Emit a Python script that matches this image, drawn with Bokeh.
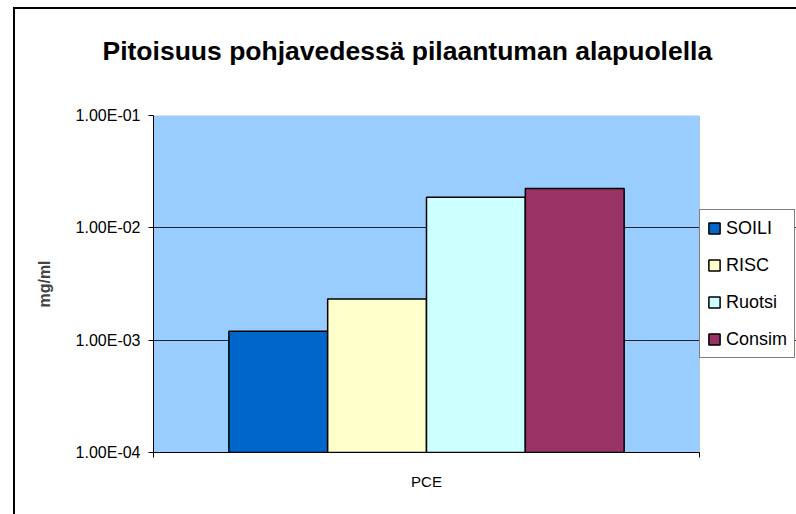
from bokeh.plotting import figure
from bokeh.models import (Range1d, FixedTicker, CustomJSTickFormatter, LinearAxis,
                          Legend, LegendItem, BoxAnnotation, InlineStyleSheet)
from bokeh.transform import dodge
from bokeh.embed import file_html
from bokeh.resources import INLINE

# ---- data ----
categories = ["PCE"]
series_names = ["SOILI", "RISC", "Ruotsi", "Consim"]
soili = [1.2e-3]
risc = [2.33e-3]
ruotsi = [1.87e-2]
consim = [2.24e-2]
y_ticks = [1e-4, 1e-3, 1e-2, 1e-1]
title_text = "Pitoisuus pohjavedessä pilaantuman alapuolella"
y_label = "mg/ml"

colors = ["#0066CC", "#FFFFCC", "#CCFFFF", "#993366"]
values = [soili, risc, ruotsi, consim]
FONT = "Liberation Sans"

n_cat = len(categories)
cat_pos = [i + 0.5 for i in range(n_cat)]
# the frame also spans the legend column to the right of the plot area
x_end = n_cat * 643 / 546

W, H = 796, 514
p = figure(width=W, height=H, output_backend="svg", toolbar_location=None,
           x_range=Range1d(0, x_end), y_axis_type="log",
           y_range=Range1d(y_ticks[0], y_ticks[-1]),
           min_border_left=153, min_border_right=0, min_border_top=115, min_border_bottom=62)

p.background_fill_color = "white"
p.border_fill_color = "white"
p.outline_line_color = None

# plot area (blue, grey border)
plot_area = BoxAnnotation(left=0, right=n_cat, fill_color="#99CCFF", fill_alpha=1,
                          line_color="#808080", line_width=1, level="image")
p.add_layout(plot_area)

bar_w = 0.181
offsets = [-1.5 * bar_w, -0.5 * bar_w, 0.5 * bar_w, 1.5 * bar_w]
renderers = []
for name, vals, col, off in zip(series_names, values, colors, offsets):
    r = p.vbar(x=dodge("x", off), top="top", bottom=y_ticks[0], width=bar_w,
               source=dict(x=cat_pos, top=vals), fill_color=col,
               line_color="black", line_width=1.5)
    renderers.append((name, r))

# title
p.title.text = title_text
p.title.text_font = FONT
p.title.text_font_style = "bold"
p.title.text_font_size = "26.5px"
p.title.text_color = "black"
p.title.align = "left"
p.title.offset = -51

# y axis
p.yaxis.ticker = FixedTicker(ticks=y_ticks, minor_ticks=[])
p.yaxis.formatter = CustomJSTickFormatter(code="""
const e = Math.round(Math.log10(tick));
const m = tick / Math.pow(10, e);
const a = Math.abs(e);
return m.toFixed(2) + "E" + (e < 0 ? "-" : "+") + (a < 10 ? "0" : "") + a;
""")
p.yaxis.major_label_text_font = FONT
p.yaxis.major_label_text_font_size = "16px"
p.yaxis.major_label_text_color = "black"
p.yaxis.major_tick_out = 5
p.yaxis.major_tick_in = 0
p.yaxis.minor_tick_out = 0
p.yaxis.minor_tick_in = 0
p.yaxis.major_label_standoff = 8
p.yaxis.axis_line_color = "black"
p.yaxis.major_tick_line_color = "black"
p.yaxis.axis_label = y_label
p.yaxis.axis_label_text_font = FONT
p.yaxis.axis_label_text_font_style = "bold"
p.yaxis.axis_label_text_font_size = "16px"
p.yaxis.axis_label_standoff = 20

# x axis (category axis below)
xax = p.below[0]
xax.ticker = FixedTicker(ticks=cat_pos, minor_ticks=[0, n_cat])
xax.major_label_overrides = {pos: name for pos, name in zip(cat_pos, categories)}
xax.bounds = (0, n_cat)
xax.major_label_text_font = FONT
xax.major_label_text_font_size = "15px"
xax.major_label_text_color = "black"
xax.major_tick_line_color = None
xax.minor_tick_line_color = "black"
xax.minor_tick_out = 5
xax.minor_tick_in = 0
xax.major_label_standoff = 14
xax.axis_line_color = "black"

p.xgrid.grid_line_color = None
p.ygrid.ticker = FixedTicker(ticks=y_ticks[1:-1])
p.ygrid.grid_line_color = "#222222"
p.ygrid.grid_line_width = 1

# invisible spacer between the frame and the title (lifts the title up)
spacer = LinearAxis(ticker=FixedTicker(ticks=cat_pos, minor_ticks=[]),
                    major_label_overrides={pos: "" for pos in cat_pos},
                    major_label_text_font_size="1px",
                    major_tick_out=45, major_tick_in=0, minor_tick_out=0, minor_tick_in=0,
                    major_label_standoff=0, axis_line_color=None, major_tick_line_color=None,
                    minor_tick_line_color=None)
p.add_layout(spacer, "above")

# legend
legend = Legend(items=[LegendItem(label=n, renderers=[r]) for n, r in renderers],
                location=(546, 94), orientation="vertical")
legend.label_text_font = FONT
legend.label_text_font_size = "18px"
legend.label_text_color = "black"
legend.border_line_color = "black"
legend.border_line_width = 1
legend.background_fill_color = "white"
legend.background_fill_alpha = 1
legend.padding = 7
legend.spacing = 15
legend.label_height = 22
legend.glyph_height = 14
legend.glyph_width = 14
legend.label_standoff = 5
legend.margin = 0
p.add_layout(legend)

# outer chart-area border (left and top edges visible in the window)
p.stylesheets = [InlineStyleSheet(css="""
:host::after {
  content: "";
  position: absolute;
  left: 13px; top: 7px; right: 0; bottom: 0;
  border-left: 2px solid black;
  border-top: 2px solid black;
  pointer-events: none;
}
""")]

open("out.html", "w").write(file_html(p, INLINE))
